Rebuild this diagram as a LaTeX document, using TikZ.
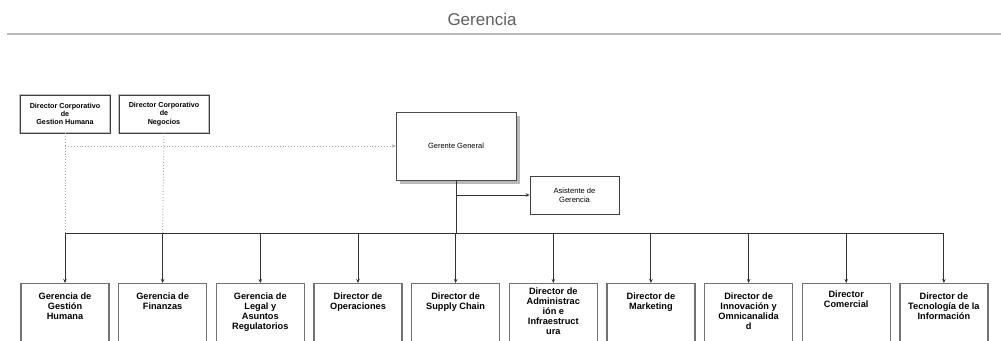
\documentclass[tikz,border=0pt]{standalone}
\usepackage{fontspec}
\setmainfont{Liberation Sans}
\usetikzlibrary{arrows.meta,shadows}
\begin{document}
\begin{tikzpicture}[x=1pt,y=-1pt,
  topbox/.style={draw=black!75, line width=0.5pt, preaction={draw=gray!50, line width=2.6pt},
    minimum width=90pt, minimum height=38pt, inner sep=0pt, align=center,
    font=\fontsize{7.2}{8.4}\selectfont\bfseries},
  ggbox/.style={draw=black!70, line width=0.8pt, fill=white,
    drop shadow={shadow xshift=4pt, shadow yshift=-4pt, fill=gray!55, opacity=1},
    minimum width=120pt, minimum height=68pt, inner sep=0pt, font=\fontsize{7.5}{9}\selectfont},
  asbox/.style={draw=black!75, line width=0.8pt, minimum width=89pt, minimum height=38pt,
    inner sep=0pt, align=center, font=\fontsize{7.6}{9}\selectfont},
  lowbox/.style={draw=black!55, line width=1.3pt, minimum width=88pt, minimum height=90pt,
    inner sep=0pt, anchor=north},
  lowtext/.style={anchor=north, align=center, inner sep=0pt,
    font=\fontsize{9.2}{9.8}\selectfont\bfseries},
  arr/.style={draw=black!80, line width=0.9pt, -{Stealth[length=4pt,width=3.5pt]}},
  dots/.style={draw=gray!70, line width=0.9pt, dotted}
]
\useasboundingbox (0,0) rectangle (1001,340);
\clip (0,0) rectangle (1001,340);
\fill[white] (0,0) rectangle (1001,340);

% title
\node[text=gray!75!black, font=\fontsize{17}{20}\selectfont] (title) at (482,19) {Gerencia};
\coordinate (hl) at (7,34);
\coordinate (hr) at (1001,34);
\draw[gray!55, line width=1.6pt] (hl) -- (hr);

% top boxes
\node[topbox] (dch) at (65,114) {Director Corporativo\\de\\Gestion Humana};
\node[topbox] (dcn) at (164,114) {Director Corporativo\\de\\Negocios};
\node[ggbox] (gg) at (456,146) {Gerente General};
\node[asbox] (as) at (574.5,195) {Asistente de\\Gerencia};

% bottom boxes
\node[lowbox] (b1) at (65,283) {};
\node[lowbox] (b2) at (162.6,283) {};
\node[lowbox] (b3) at (260.3,283) {};
\node[lowbox] (b4) at (358,283) {};
\node[lowbox] (b5) at (455.6,283) {};
\node[lowbox] (b6) at (553.3,283) {};
\node[lowbox] (b7) at (650.9,283) {};
\node[lowbox] (b8) at (748.6,283) {};
\node[lowbox] (b9) at (846.2,283) {};
\node[lowbox] (b10) at (943.9,283) {};

\node[lowtext] (t1) at ([yshift=-10pt]b1.north) {Gerencia de\\Gestión\\Humana};
\node[lowtext] (t2) at ([yshift=-10pt]b2.north) {Gerencia de\\Finanzas};
\node[lowtext] (t3) at ([yshift=-10pt]b3.north) {Gerencia de\\Legal y\\Asuntos\\Regulatorios};
\node[lowtext] (t4) at ([yshift=-10pt]b4.north) {Director de\\Operaciones};
\node[lowtext] (t5) at ([yshift=-10pt]b5.north) {Director de\\Supply Chain};
\node[lowtext] (t6) at ([yshift=-5pt]b6.north) {Director de\\Administrac\\ión e\\Infraestruct\\ura};
\node[lowtext] (t7) at ([yshift=-10pt]b7.north) {Director de\\Marketing};
\node[lowtext] (t8) at ([yshift=-10pt]b8.north) {Director de\\Innovación y\\Omnicanalida\\d};
\node[lowtext] (t9) at ([yshift=-8pt]b9.north) {Director\\Comercial};
\node[lowtext] (t10) at ([yshift=-10pt]b10.north) {Director de\\Tecnología de la\\Información};

% bus coordinates
\foreach \i in {1,...,10} {\coordinate (k\i) at (b\i.north |- 0,233);}

% dotted lines
\coordinate (dj) at (dch.south |- gg.west);
\draw[dots] (dch.south) -- (k1);
\draw[dots] (dcn.south) -- (k2);
\draw[dots, -{Stealth[length=4pt,width=3.5pt]}] (dj) -- (gg.west);

% solid lines
\coordinate (gs) at (gg.south |- 0,233);
\coordinate (ga) at (gg.south |- as.west);
\draw[draw=black!80, line width=0.9pt] (gg.south) -- (gs);
\draw[arr] (ga) -- (as.west);
\draw[draw=black!80, line width=0.9pt] (k1) -- (k10);
\foreach \i in {1,...,10} {\draw[arr] (k\i) -- (b\i.north);}
\end{tikzpicture}
\end{document}
